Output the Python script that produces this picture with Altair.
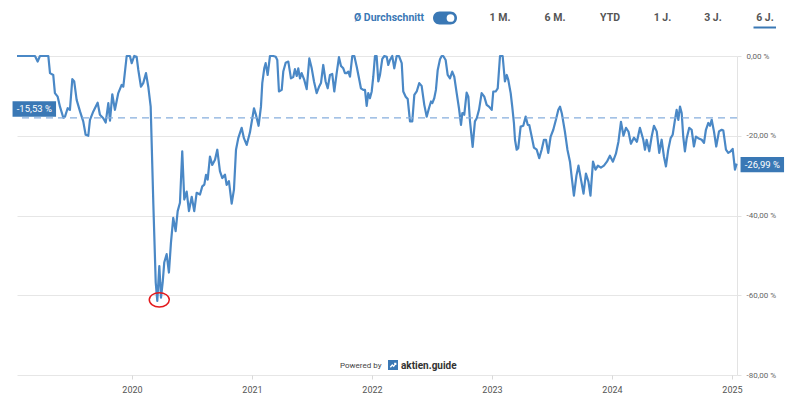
import altair as alt
import pandas as pd

# ---------------- data ----------------
YEARS = [
    2019.042, 2019.108, 2019.192, 2019.214, 2019.233, 2019.267, 2019.303, 2019.317, 2019.344, 2019.358,
    2019.381, 2019.400, 2019.428, 2019.442, 2019.464, 2019.483, 2019.503, 2019.519, 2019.539, 2019.567,
    2019.594, 2019.614, 2019.636, 2019.650, 2019.678, 2019.714, 2019.733, 2019.761, 2019.781, 2019.803,
    2019.817, 2019.836, 2019.858, 2019.886, 2019.914, 2019.928, 2019.956, 2019.983, 2019.998, 2020.019,
    2020.039, 2020.053, 2020.075, 2020.094, 2020.117, 2020.136, 2020.156, 2020.178, 2020.198, 2020.211,
    2020.228, 2020.242, 2020.256, 2020.269, 2020.289, 2020.308, 2020.325, 2020.344, 2020.364, 2020.381,
    2020.400, 2020.419, 2020.436, 2020.456, 2020.475, 2020.498, 2020.519, 2020.539, 2020.567, 2020.586,
    2020.603, 2020.617, 2020.631, 2020.650, 2020.669, 2020.692, 2020.711, 2020.733, 2020.753, 2020.775,
    2020.789, 2020.808, 2020.831, 2020.850, 2020.867, 2020.886, 2020.914, 2020.933, 2020.956, 2020.983,
    2021.017, 2021.031, 2021.055, 2021.075, 2021.086, 2021.103, 2021.114, 2021.131, 2021.150, 2021.178,
    2021.198, 2021.211, 2021.225, 2021.248, 2021.261, 2021.281, 2021.303, 2021.325, 2021.344, 2021.358,
    2021.373, 2021.386, 2021.400, 2021.414, 2021.436, 2021.456, 2021.478, 2021.498, 2021.517, 2021.539,
    2021.558, 2021.575, 2021.594, 2021.614, 2021.631, 2021.650, 2021.669, 2021.686, 2021.706, 2021.725,
    2021.742, 2021.761, 2021.775, 2021.789, 2021.803, 2021.817, 2021.836, 2021.853, 2021.873, 2021.892,
    2021.908, 2021.928, 2021.942, 2021.956, 2021.969, 2021.983, 2021.998, 2022.011, 2022.025, 2022.039,
    2022.053, 2022.067, 2022.086, 2022.103, 2022.123, 2022.136, 2022.150, 2022.169, 2022.186, 2022.206,
    2022.225, 2022.248, 2022.261, 2022.281, 2022.298, 2022.317, 2022.336, 2022.353, 2022.373, 2022.394,
    2022.414, 2022.436, 2022.456, 2022.475, 2022.492, 2022.503, 2022.519, 2022.533, 2022.548, 2022.567,
    2022.581, 2022.594, 2022.614, 2022.631, 2022.650, 2022.669, 2022.686, 2022.706, 2022.725, 2022.742,
    2022.753, 2022.769, 2022.789, 2022.803, 2022.817, 2022.839, 2022.858, 2022.873, 2022.892, 2022.914,
    2022.936, 2022.956, 2022.975, 2022.998, 2023.011, 2023.031, 2023.048, 2023.067, 2023.089, 2023.108,
    2023.123, 2023.136, 2023.156, 2023.169, 2023.183, 2023.192, 2023.206, 2023.219, 2023.239, 2023.261,
    2023.281, 2023.298, 2023.311, 2023.331, 2023.350, 2023.373, 2023.394, 2023.414, 2023.433, 2023.450,
    2023.469, 2023.489, 2023.511, 2023.533, 2023.553, 2023.567, 2023.583, 2023.608, 2023.629, 2023.650,
    2023.667, 2023.683, 2023.704, 2023.721, 2023.742, 2023.763, 2023.783, 2023.804, 2023.821, 2023.842,
    2023.863, 2023.883, 2023.908, 2023.933, 2023.958, 2023.983, 2024.008, 2024.033, 2024.054, 2024.075,
    2024.096, 2024.117, 2024.138, 2024.158, 2024.183, 2024.208, 2024.233, 2024.261, 2024.275, 2024.289,
    2024.311, 2024.331, 2024.350, 2024.373, 2024.394, 2024.414, 2024.433, 2024.450, 2024.469, 2024.489,
    2024.506, 2024.525, 2024.539, 2024.553, 2024.567, 2024.581, 2024.594, 2024.608, 2024.623, 2024.644,
    2024.664, 2024.683, 2024.700, 2024.719, 2024.748, 2024.767, 2024.783, 2024.803, 2024.817, 2024.831,
    2024.850, 2024.869, 2024.892, 2024.914, 2024.928, 2024.950, 2024.969, 2024.989, 2025.006, 2025.025,
    2025.039,
]

CHANGE = [
    0, 0, 0, -1.4, 0, 0, 0, -4.3, -4.75, -9.3,
    -10.2, -12.7, -15.5, -15.2, -13.1, -13.5, -5.8, -6.4, -11.0, -13.9,
    -16.4, -19.75, -20.0, -16.0, -13.9, -11.7, -14.75, -15.6, -16.7, -11.8,
    -16.2, -9.6, -13.5, -9.3, -7.25, -7.7, 0, 0, -1.8, 0,
    -0.2, -3.5, -7.7, -6.8, -4.3, -7.7, -12.7, -37.0, -56.8, -61.4,
    -52.7, -60.6, -56.8, -51.8, -49.7, -54.3, -46.8, -40.6, -43.9, -38.9,
    -36.8, -23.9, -36.0, -34.0, -38.9, -35.3, -38.9, -34.3, -34.75, -32.7,
    -32.25, -29.8, -31.0, -25.2, -27.3, -26.0, -23.5, -28.9, -30.6, -29.75,
    -32.3, -31.4, -37.0, -33.5, -23.5, -20.6, -18.0, -20.6, -22.3, -19.2,
    -13.1, -14.5, -17.5, -12.7, -6.8, -3.0, -1.8, -4.75, 0, 0,
    -0.2, -1.0, -8.9, -8.5, -3.9, -1.7, -1.4, -5.6, -5.3, -3.3,
    -5.0, -3.1, -5.6, -4.3, -6.0, -8.3, -0.6, -3.1, -6.4, -9.3,
    -7.8, -6.8, -2.25, -6.4, -8.1, -4.75, -4.5, -8.9, -4.3, -0.3,
    -2.5, -3.1, -4.3, -4.3, -3.9, -5.2, 0, 0, -2.7, -5.6,
    -8.1, -8.5, -8.5, -12.5, -9.3, -10.6, -8.9, -5.2, 0, 0,
    -6.4, -4.75, -0.7, 0, -0.2, -2.25, -1.0, 0, -3.1, 0,
    0, -1.8, -8.9, -10.2, -10.8, -16.4, -16.4, -9.75, -8.9, -6.8,
    -7.5, -12.25, -15.2, -13.1, -11.4, -11.8, -10.6, -8.5, -3.5, -0.8,
    0, 0, -1.0, -4.75, -5.6, -3.9, -5.2, -9.3, -13.1, -17.25,
    -14.3, -14.75, -9.2, -10.2, -16.4, -22.8, -16.4, -15.6, -13.5, -9.3,
    -10.2, -12.25, -12.7, -13.5, -8.9, -8.9, -8.1, 0, 0, -6.4,
    -4.75, -6.0, -9.3, -12.7, -16.8, -21.0, -23.5, -23.1, -17.7, -17.5,
    -15.2, -17.25, -17.3, -20.2, -23.0, -23.5, -25.6, -23.5, -21.0, -21.0,
    -24.3, -20.2, -18.5, -16.0, -13.5, -12.7, -14.5, -19.0, -23.5, -26.5,
    -31.0, -35.0, -30.0, -27.5, -31.0, -34.5, -29.5, -31.5, -35.0, -26.5,
    -28.5, -27.5, -28.0, -27.5, -26.5, -25.0, -26.5, -24.5, -21.5, -16.5,
    -20.0, -18.0, -19.0, -22.0, -20.5, -21.5, -18.0, -21.0, -23.5, -21.0,
    -23.9, -20.2, -17.5, -18.9, -24.3, -21.0, -25.2, -27.7, -23.5, -20.6,
    -19.75, -16.0, -13.5, -16.0, -12.7, -14.3, -20.2, -23.9, -20.6, -18.0,
    -18.5, -22.7, -20.2, -20.6, -21.0, -21.8, -18.5, -16.8, -17.5, -16.0,
    -18.9, -22.7, -18.9, -18.5, -18.7, -23.5, -24.3, -23.9, -23.3, -28.5,
    -26.99,
]

AVERAGE = -15.53
Y_TICKS = [0, -20, -40, -60, -80]
X_TICKS = [2020, 2021, 2022, 2023, 2024, 2025]
X_RANGE = [2019.042, 2025.042]
Y_RANGE = [-80, 0]
PERIODS = ["1 M.", "6 M.", "YTD", "1 J.", "3 J.", "6 J."]
TOGGLE_LABEL = "Ø Durchschnitt"
POWERED = "Powered by"
BRAND = "aktien.guide"

# ---------------- styling ----------------
LINE = "#4a88c6"
BOX = "#3a78b5"
DASH = "#86aedd"
FONT = "Roboto"
W, H = 720, 319

BOX_PATH = "M -1 -0.355 L 1 -0.355 L 1 0.355 L -1 0.355 Z"
ELLIPSE_PATH = "M -1 0 A 1 0.72 0 1 1 1 0 A 1 0.72 0 1 1 -1 0 Z"
ARROW_PATH = "M -0.6 0.5 L -0.15 0 L 0.15 0.3 L 0.6 -0.35 M 0.25 -0.35 L 0.6 -0.35 L 0.6 0"


def de_pct(v):
    s = f"{abs(v):.2f}".replace(".", ",")
    return ("-" if v < 0 else "") + s + " %"


df = pd.DataFrame({"year": YEARS, "change": CHANGE})
last = df.iloc[[-1]].assign(label=de_pct(CHANGE[-1]))
low = df.loc[[df["change"].idxmin()]]
avg = pd.DataFrame({"change": [AVERAGE], "label": [de_pct(AVERAGE)]})
one = pd.DataFrame({"k": [0]})

xs = alt.Scale(domain=X_RANGE, nice=False, zero=False)
ys = alt.Scale(domain=Y_RANGE, nice=False, zero=False)

label_expr = ("(datum.value < 0 ? '-' : '') + "
              "replace(format(abs(datum.value), '.2f'), '.', ',') + ' %'")

X_AXIS = alt.Axis(
    values=X_TICKS, format="d", title=None, grid=False, domain=False,
    ticks=True, tickColor="#d9d9d9", tickSize=4, labelColor="#555555",
    labelFontSize=9, labelFont=FONT, labelPadding=6)
Y_AXIS = alt.Axis(
    orient="right", values=Y_TICKS, labelExpr=label_expr, title=None,
    grid=True, gridColor="#e6e6e6", domain=True, domainColor="#e3e3e3",
    tickColor="#e3e3e3", tickSize=4, labelColor="#666666",
    labelFontSize=8, labelFont=FONT, labelPadding=5)

XENC = alt.X("year:Q", scale=xs, axis=X_AXIS)
YENC = alt.Y("change:Q", scale=ys, axis=Y_AXIS)

line = alt.Chart(df).mark_line(color=LINE, strokeWidth=2.2, strokeJoin="round").encode(
    x=XENC, y=YENC
)

avg_rule = alt.Chart(avg).mark_rule(color=DASH, strokeDash=[7, 5], strokeWidth=1.3).encode(
    y=YENC
)

avg_box = alt.Chart(avg).mark_point(
    shape=BOX_PATH, size=43.5 ** 2, filled=True, color=BOX, opacity=1, yOffset=-9
).encode(x=alt.value(17.3), y=YENC)

avg_text = alt.Chart(avg).mark_text(
    color="white", fontSize=9.5, font=FONT, align="center", baseline="middle", dy=-9
).encode(x=alt.value(17.3), y=YENC, text="label:N")

last_box = alt.Chart(last).mark_point(
    shape=BOX_PATH, size=43.5 ** 2, filled=True, color=BOX, opacity=1, yOffset=1
).encode(x=alt.value(745.3), y=YENC)

last_text = alt.Chart(last).mark_text(
    color="white", fontSize=9.5, font=FONT, align="center", baseline="middle", dy=1
).encode(x=alt.value(745.3), y=YENC, text="label:N")

ring = alt.Chart(low).mark_point(
    shape=ELLIPSE_PATH, size=20 ** 2, filled=False, color="#e3191c",
    strokeWidth=1.5, opacity=1, xOffset=2, yOffset=-1
).encode(x=XENC, y=YENC)

# ---------------- toolbar (top) ----------------
toggle_label = alt.Chart(one).mark_text(
    text=TOGGLE_LABEL, color=BOX, fontSize=10.5, fontWeight="bold", font=FONT,
    align="left", baseline="middle"
).encode(x=alt.value(337), y=alt.value(-38))

toggle_pill = alt.Chart(one).mark_rect(color=BOX, cornerRadius=6.5).encode(
    x=alt.value(416), x2=alt.value(440), y=alt.value(-44.5), y2=alt.value(-31.5)
)
toggle_knob = alt.Chart(one).mark_point(
    shape="circle", size=60, filled=True, color="white", opacity=1
).encode(x=alt.value(433.5), y=alt.value(-38))

period_x = [483, 538, 593, 645.5, 696, 748]
period_layers = []
for label, px in zip(PERIODS, period_x):
    period_layers.append(
        alt.Chart(one).mark_text(
            text=label, color="#555555", fontSize=10.5, fontWeight="bold", font=FONT,
            align="center", baseline="middle"
        ).encode(x=alt.value(px), y=alt.value(-38))
    )

underline = alt.Chart(one).mark_rule(color=BOX, strokeWidth=2).encode(
    x=alt.value(736.5), x2=alt.value(759), y=alt.value(-28.5)
)

# ---------------- "Powered by" badge ----------------
powered = alt.Chart(one).mark_text(
    text=POWERED, color="#444444", fontSize=8, font=FONT, align="left", baseline="middle"
).encode(x=alt.value(323), y=alt.value(309.5))

logo_bg = alt.Chart(one).mark_point(
    shape="square", size=100, filled=True, color=BOX, opacity=1
).encode(x=alt.value(376), y=alt.value(309))

logo_arrow = alt.Chart(one).mark_point(
    shape=ARROW_PATH, size=81, filled=False, color="white", strokeWidth=1.3, opacity=1
).encode(x=alt.value(376), y=alt.value(309))

brand = alt.Chart(one).mark_text(
    text=BRAND, color="#333333", fontSize=10, fontWeight="bold", font=FONT,
    align="left", baseline="middle"
).encode(x=alt.value(384), y=alt.value(309.5))

chart = alt.layer(
    line, avg_rule, avg_box, avg_text, last_box, last_text, ring,
    toggle_label, toggle_pill, toggle_knob, *period_layers, underline,
    powered, logo_bg, logo_arrow, brand,
).properties(
    width=W, height=H,
    autosize=alt.AutoSizeParams(type="none"),
    padding={"left": 9, "top": 48, "right": 55, "bottom": 20},
    background="white",
).configure_view(stroke=None)

chart.save("out.html", embed_options={"renderer": "svg", "actions": False})
